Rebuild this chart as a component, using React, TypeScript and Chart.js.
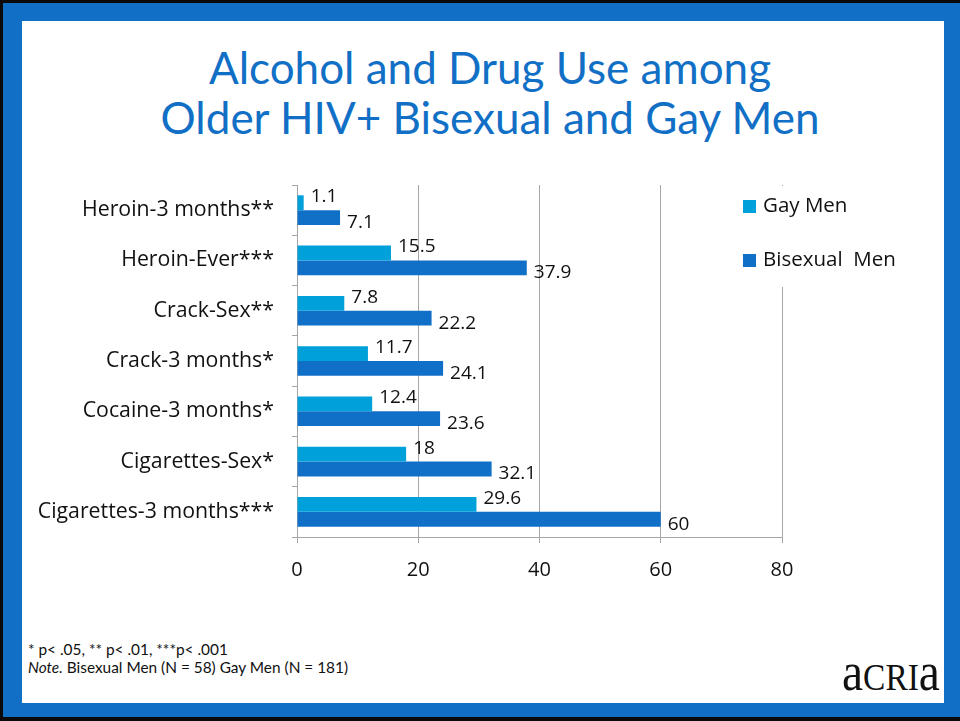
import React, { useEffect, useRef } from "react";
import { Chart, registerables } from "chart.js";

Chart.register(...registerables);

const categories = [
  "Heroin-3 months**",
  "Heroin-Ever***",
  "Crack-Sex**",
  "Crack-3 months*",
  "Cocaine-3 months*",
  "Cigarettes-Sex*",
  "Cigarettes-3 months***",
];
const gayMen = [1.1, 15.5, 7.8, 11.7, 12.4, 18, 29.6];
const bisexualMen = [7.1, 37.9, 22.2, 24.1, 23.6, 32.1, 60];
const seriesNames = ["Gay Men", "Bisexual  Men"];
const seriesColors = ["#00A0DA", "#1070C8"];
const xMin = 0;
const xMax = 80;
const xStep = 20;

const FONT = "'Open Sans', Lato, sans-serif";
const TFONT = "Lato, 'Open Sans', sans-serif";
const GRID = "#a6a6a6";

const labelPlugin = {
  id: "valueLabels",
  afterDatasetsDraw(chart: any) {
    const ctx = chart.ctx;
    ctx.save();
    ctx.font = `19px ${FONT}`;
    ctx.fillStyle = "#111";
    ctx.textAlign = "left";
    ctx.textBaseline = "middle";
    chart.data.datasets.forEach((ds: any, di: number) => {
      const meta = chart.getDatasetMeta(di);
      meta.data.forEach((bar: any, i: number) => {
        const v = ds.data[i];
        const dy = di === 0 ? -6 : 5;
        ctx.fillText(String(v), bar.x + 7, bar.y + dy);
      });
    });
    ctx.restore();
  },
};

const legendPlugin = {
  id: "customLegend",
  afterDraw(chart: any) {
    const ctx = chart.ctx;
    ctx.save();
    ctx.fillStyle = "#fff";
    ctx.fillRect(728, chart.chartArea.top + 1, 195, 101);
    ctx.font = `20.5px ${FONT}`;
    ctx.textBaseline = "middle";
    ctx.textAlign = "left";
    const ys = [206, 260];
    seriesNames.forEach((name, i) => {
      ctx.fillStyle = seriesColors[i];
      ctx.fillRect(743, ys[i] - 6, 13, 13);
      ctx.fillStyle = "#111";
      ctx.fillText(name, 763, ys[i]);
    });
    ctx.restore();
  },
};

function ChartView() {
  const ref = useRef<HTMLCanvasElement | null>(null);
  useEffect(() => {
    if (!ref.current) return;
    const chart = new Chart(ref.current, {
      type: "bar",
      data: {
        labels: categories,
        datasets: [
          {
            label: seriesNames[0],
            data: gayMen,
            backgroundColor: seriesColors[0],
            borderWidth: 0,
            categoryPercentage: 0.59,
            barPercentage: 1,
          },
          {
            label: seriesNames[1],
            data: bisexualMen,
            backgroundColor: seriesColors[1],
            borderWidth: 0,
            categoryPercentage: 0.59,
            barPercentage: 1,
          },
        ],
      },
      options: {
        indexAxis: "y",
        responsive: false,
        animation: false,
        devicePixelRatio: 1,
        layout: { padding: { top: 185, right: 178, left: 0, bottom: 0 } },
        plugins: {
          legend: { display: false },
          tooltip: { enabled: false },
          title: { display: false },
        },
        scales: {
          x: {
            type: "linear",
            min: xMin,
            max: xMax,
            ticks: {
              stepSize: xStep,
              color: "#111",
              font: { family: FONT, size: 20 },
              padding: 15,
            },
            grid: { color: GRID, lineWidth: 1, tickLength: 6, drawTicks: true },
            border: { color: GRID },
            afterFit: (s: any) => {
              s.height = 184;
            },
          },
          y: {
            type: "category",
            ticks: {
              color: "#111",
              font: { family: FONT, size: 21.3 },
              padding: 18,
            },
            grid: { drawOnChartArea: false, tickLength: 5, color: GRID, offset: true },
            border: { color: GRID },
            afterFit: (s: any) => {
              s.width = 297;
            },
          },
        },
      },
      plugins: [labelPlugin, legendPlugin],
    } as any);
    return () => chart.destroy();
  }, []);
  return (
    <canvas
      ref={ref}
      width={960}
      height={721}
      style={{ position: "absolute", left: 0, top: 0, width: 960, height: 721 }}
    />
  );
}

export default function App() {
  return (
    <div
      style={{
        position: "fixed",
        left: 0,
        top: 0,
        width: 960,
        height: 721,
        background: "#1170C6",
        overflow: "hidden",
      }}
    >
      <div style={{ position: "absolute", left: 0, top: 0, width: 960, height: 3, background: "#0a0a0a" }} />
      <div style={{ position: "absolute", left: 0, top: 0, width: 3, height: 721, background: "#0a0a0a" }} />
      <div style={{ position: "absolute", left: 0, top: 717, width: 960, height: 4, background: "#0a0a0a" }} />
      <div style={{ position: "absolute", left: 22, top: 21, width: 922, height: 682, background: "#fff" }} />
      <div
        style={{
          position: "absolute",
          left: 22,
          top: 42,
          width: 936,
          textAlign: "center",
          color: "#1170C6",
          fontFamily: TFONT,
          fontSize: 44,
          lineHeight: "50px",
        }}
      >
        Alcohol and Drug Use among
        <br />
        Older HIV+ Bisexual and Gay Men
      </div>
      <div
        style={{
          position: "absolute",
          left: 28,
          top: 640,
          fontFamily: TFONT,
          fontSize: 15.4,
          lineHeight: "18px",
          color: "#111",
        }}
      >
        * p&lt; .05, ** p&lt; .01, ***p&lt; .001
        <br />
        <i>Note.</i> Bisexual Men (N = 58) Gay Men (N = 181)
      </div>
      <div
        style={{
          position: "absolute",
          left: 842,
          top: 644,
          fontFamily: "'Liberation Serif', 'DejaVu Serif', serif",
          fontSize: 54,
          lineHeight: "56px",
          color: "#111",
          transform: "scaleX(0.88)",
          transformOrigin: "left top",
          whiteSpace: "nowrap",
        }}
      >
        a<span style={{ fontVariant: "small-caps" }}>cri</span>a
      </div>
      <ChartView />
    </div>
  );
}
